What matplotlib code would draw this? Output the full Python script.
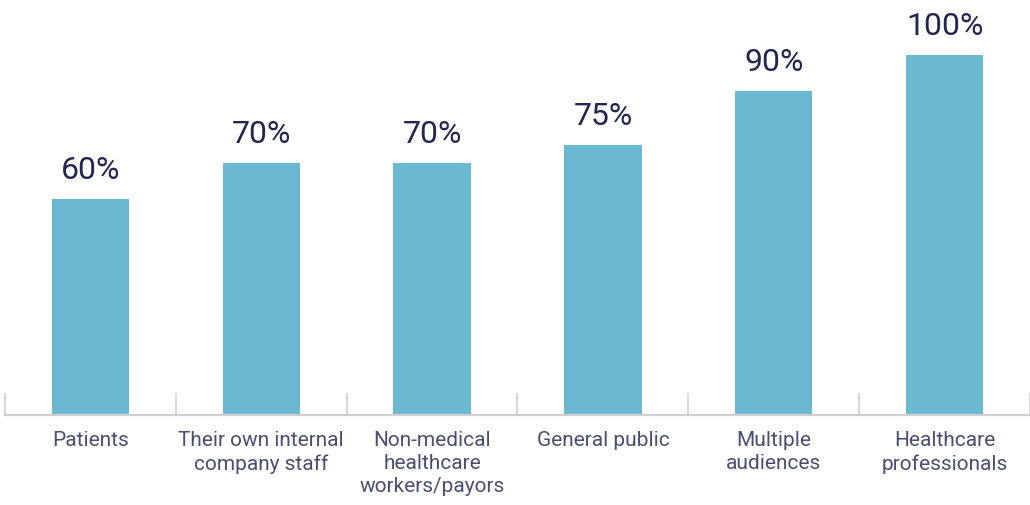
import matplotlib
matplotlib.use("Agg")
import matplotlib.pyplot as plt

categories = ["Patients", "Their own internal\ncompany staff", "Non-medical\nhealthcare\nworkers/payors",
              "General public", "Multiple\naudiences", "Healthcare\nprofessionals"]
values = [60, 70, 70, 75, 90, 100]
value_labels = ["60%", "70%", "70%", "75%", "90%", "100%"]

plt.rcParams['font.family'] = ['Roboto', 'DejaVu Sans']

fig = plt.figure(figsize=(10.30, 5.06), dpi=100)
W, H = 1030, 506
ax = fig.add_axes([5.0 / W, (H - 416.0) / H, (W - 5.0) / W, 416.0 / H])

x = list(range(len(categories)))
ax.bar(x, values, width=0.453, color="#6ab9d0", zorder=2)

for xi, v, lab in zip(x, values, value_labels):
    ax.annotate(lab, (xi, v), xytext=(0, 11), textcoords="offset points",
                ha="center", va="bottom", fontsize=23, color="#22264f")

ax.set_xlim(-0.5, 5.453)
ax.set_ylim(0, 115.5)

for s in ["top", "right", "left"]:
    ax.spines[s].set_visible(False)
ax.spines["bottom"].set_color("#d0d0d0")
ax.spines["bottom"].set_linewidth(1.6)
ax.set_yticks([])

ax.set_xticks(x)
ax.set_xticklabels(categories, fontsize=15, color="#4a4e70", linespacing=1.25)
ax.tick_params(axis="x", which="major", length=0, pad=11)
ax.set_xticks([i - 0.5 for i in range(len(categories) + 1)], minor=True)
ax.tick_params(axis="x", which="minor", direction="in", length=16, width=1.2, color="#d0d0d0")

fig.savefig("out.png", dpi=100)
